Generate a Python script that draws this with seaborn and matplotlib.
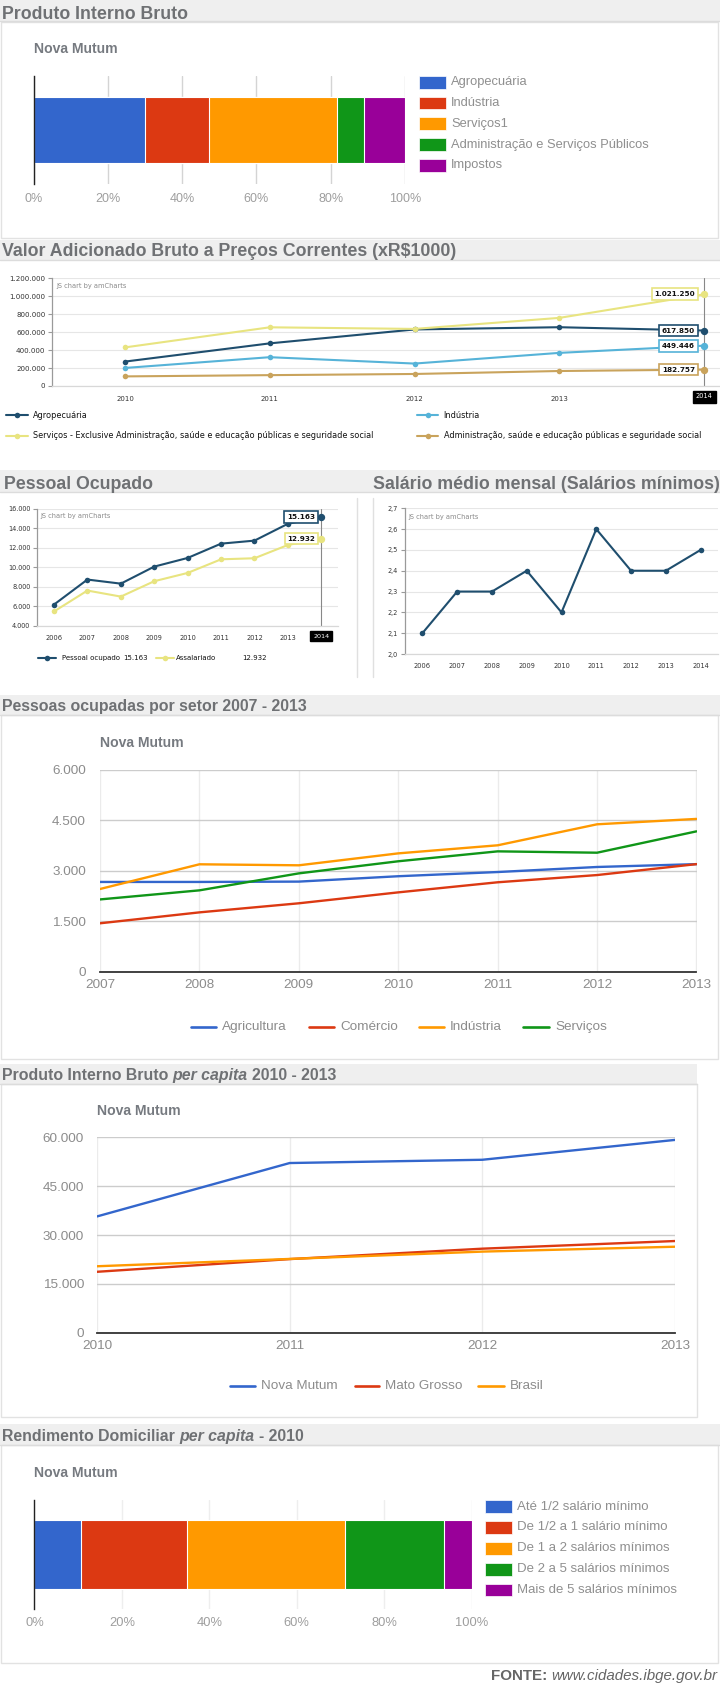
import matplotlib
matplotlib.use('Agg')
import matplotlib.pyplot as plt
from matplotlib.patches import Rectangle
from matplotlib.ticker import FuncFormatter
import numpy as np
import pandas as pd
import seaborn as sns

# ---------------- dados ----------------
pib_setores = ['Agropecuária', 'Indústria', 'Serviços1',
               'Administração e Serviços Públicos', 'Impostos']
pib_partes = [29.9, 17.3, 34.4, 7.4, 11.0]

vab_anos = [2010, 2011, 2012, 2013, 2014]
vab_nomes = ['Agropecuária', 'Indústria',
             'Serviços - Exclusive Administração, saúde e educação públicas e seguridade social',
             'Administração, saúde e educação públicas e seguridade social']
vab_agro = [272000, 475000, 630000, 655000, 617850]
vab_ind = [201000, 321000, 250000, 369000, 449446]
vab_serv = [430000, 654000, 636000, 759000, 1021250]
vab_adm = [107000, 121000, 134000, 167000, 182757]

pessoal_anos = [2006, 2007, 2008, 2009, 2010, 2011, 2012, 2013, 2014]
pessoal_nomes = ['Pessoal ocupado', 'Assalariado']
pessoal_ocupado = [6150, 8720, 8300, 10050, 10940, 12410, 12720, 14450, 15163]
assalariado = [5440, 7590, 6970, 8550, 9400, 10800, 10910, 12270, 12932]

salario_anos = [2006, 2007, 2008, 2009, 2010, 2011, 2012, 2013, 2014]
salario = [2.1, 2.3, 2.3, 2.4, 2.2, 2.6, 2.4, 2.4, 2.5]

setor_anos = [2007, 2008, 2009, 2010, 2011, 2012, 2013]
setor_nomes = ['Agricultura', 'Comércio', 'Indústria', 'Serviços']
agricultura = [2670, 2670, 2680, 2840, 2965, 3115, 3200]
comercio = [1440, 1765, 2035, 2360, 2660, 2875, 3200]
industria = [2460, 3195, 3165, 3520, 3760, 4385, 4545]
servicos = [2150, 2420, 2925, 3285, 3580, 3540, 4175]

pc_anos = [2010, 2011, 2012, 2013]
pc_nomes = ['Nova Mutum', 'Mato Grosso', 'Brasil']
pc_nova_mutum = [35700, 52100, 53100, 59200]
pc_mato_grosso = [18700, 22600, 25800, 28150]
pc_brasil = [20400, 22650, 24900, 26400]

rend_faixas = ['Até 1/2 salário mínimo', 'De 1/2 a 1 salário mínimo',
               'De 1 a 2 salários mínimos', 'De 2 a 5 salários mínimos',
               'Mais de 5 salários mínimos']
rend_partes = [10.7, 24.1, 36.2, 22.8, 6.2]

# ---------------- estilo ----------------
GOOGLE = ['#3366cc', '#dc3912', '#ff9900', '#109618', '#990099']
AM = ['#1f4e6e', '#56b3d8', '#e8e480', '#c9a35c']
TITLE_C = '#6f7174'
SUB_C = '#767a80'
AMFONT = 'DejaVu Sans'

sns.set_theme(style='white')
plt.rcParams['font.family'] = ['Liberation Sans', 'DejaVu Sans']

W, H = 720, 1684
fig = plt.figure(figsize=(W / 100, H / 100), dpi=100)
fig.patch.set_facecolor('white')
bg = fig.add_axes([0, 0, 1, 1], zorder=-10)
bg.set_xlim(0, W)
bg.set_ylim(H, 0)
bg.axis('off')
renderer = fig.canvas.get_renderer()


def rect(x0, y0, x1, y1):
    return [x0 / W, 1 - y1 / H, (x1 - x0) / W, (y1 - y0) / H]


def fmt_mil(v, pos=None):
    return f'{v:,.0f}'.replace(',', '.')


def fmt_dec(v, pos=None):
    return f'{v:.1f}'.replace('.', ',')


def band(y0, y1, x1=W):
    bg.add_patch(Rectangle((0, y0), x1, y1 - y0, fc='#efefef', ec='none'))
    bg.plot([0, x1], [y1, y1], color='#dcdcdc', lw=1)


def panel(y0, y1, x1=718):
    bg.add_patch(Rectangle((1, y0), x1 - 1, y1 - y0, fc='white', ec='#e2e2e2', lw=1))


def title(x, y, parts, size):
    gap = size / 72 * 100 * 0.28
    for s, st in parts:
        t = bg.text(x, y, s, fontsize=size, fontweight='bold', fontstyle=st,
                    color=TITLE_C, va='baseline', ha='left')
        x = t.get_window_extent(renderer).x1 + gap


def subtitle(x, y):
    bg.text(x, y, 'Nova Mutum', fontsize=10.1, fontweight='bold', color=SUB_C,
            va='center', ha='left')


# ---------------- fundos e títulos ----------------
band(0, 21)
panel(22, 238)
band(240, 260)
band(470, 491.5)
band(695, 715)
panel(715, 1059)
band(1064, 1084, 696.5)
panel(1084, 1417, 696.5)
band(1424, 1445)
panel(1445, 1663)
for xs in (357.3, 372.7):
    bg.plot([xs, xs], [498, 677], color='#e0e0e0', lw=1)

title(2, 19, [('Produto Interno Bruto', 'normal')], 12.8)
title(2, 256.5, [('Valor Adicionado Bruto a Preços Correntes (xR$1000)', 'normal')], 12.8)
title(3.5, 489, [('Pessoal Ocupado', 'normal')], 12.8)
title(373, 489, [('Salário médio mensal (Salários mínimos)', 'normal')], 12.8)
title(2, 710.5, [('Pessoas ocupadas por setor 2007 - 2013', 'normal')], 11.4)
title(2, 1080, [('Produto Interno Bruto', 'normal'), ('per capita', 'italic'),
                ('2010 - 2013', 'normal')], 11.4)
title(2, 1441, [('Rendimento Domiciliar', 'normal'), ('per capita', 'italic'),
                ('- 2010', 'normal')], 11.4)

subtitle(33.5, 49)
subtitle(100, 742.7)
subtitle(97, 1110.7)
subtitle(34.4, 1472.7)


# ---------------- barras empilhadas (Google) ----------------
def stacked(pos, partes, nomes, bar_w, grid_c, tick_size, tick_pad,
            leg_x, leg_y0, leg_dy, leg_size):
    ax = fig.add_axes(rect(*pos))
    cum = np.cumsum(partes)
    cores = GOOGLE[:len(partes)]
    for c, col in zip(cum[::-1], cores[::-1]):
        sns.barplot(x=[c], y=['Nova Mutum'], orient='h', color=col, saturation=1,
                    width=bar_w, edgecolor='white', linewidth=0.8, ax=ax)
    ax.set_facecolor('none')
    ax.set_xlim(0, 100)
    ax.set_ylim(0.5, -0.5)
    ax.set_yticks([])
    ax.set_xticks([0, 20, 40, 60, 80, 100])
    ax.set_xticklabels([f'{v}%' for v in [0, 20, 40, 60, 80, 100]])
    ax.grid(axis='x', color=grid_c, lw=1)
    ax.set_axisbelow(True)
    for s in ['top', 'right', 'bottom']:
        ax.spines[s].set_visible(False)
    ax.spines['left'].set_color('#222')
    ax.spines['left'].set_linewidth(1)
    ax.spines['left'].set_zorder(5)
    ax.tick_params(axis='x', length=0, pad=tick_pad, labelsize=tick_size, labelcolor='#9e9e9e')
    ax.set_xlabel('')
    ax.set_ylabel('')
    for i, (nome, col) in enumerate(zip(nomes, cores)):
        y = leg_y0 + i * leg_dy
        bg.add_patch(Rectangle((leg_x, y - 6.4), 26.5, 12.8, fc=col, ec='white', lw=0.5))
        bg.text(leg_x + 32, y, nome, fontsize=leg_size, color='#8f8f8f', va='center', ha='left')
    return ax


stacked((33.5, 76, 405, 184), pib_partes, pib_setores, 0.62, '#d4d4d4', 9, 6.5,
        419, 82.3, 20.75, 9.3)
stacked((34.4, 1500, 471.5, 1609), rend_partes, rend_faixas, 0.633, '#eeeeee', 9.3, 5.5,
        485, 1506.7, 20.8, 9.5)


# ---------------- linhas amCharts ----------------
def am_axes(pos, xlim):
    ax = fig.add_axes(rect(*pos))
    ax.set_facecolor('none')
    ax.set_xlim(*xlim)
    return ax


def am_style(ax, xlim, ylim, yticks, yfmt, ysize, xsize, xpad, xticks):
    ax.set_xlabel('')
    ax.set_ylabel('')
    ax.set_xlim(*xlim)
    ax.set_ylim(*ylim)
    ax.set_yticks(yticks)
    ax.yaxis.set_major_formatter(FuncFormatter(yfmt))
    ax.set_xticks(xticks)
    ax.set_xticklabels([str(a) for a in xticks])
    ax.grid(axis='y', color='#e6e6e6', lw=0.8)
    ax.grid(axis='x', visible=False)
    for s in ['top', 'right']:
        ax.spines[s].set_visible(False)
    ax.spines['left'].set_color('#9a9a9a')
    ax.spines['left'].set_linewidth(0.9)
    ax.spines['bottom'].set_color('#d8d8d8')
    ax.spines['bottom'].set_linewidth(0.9)
    ax.tick_params(axis='y', left=True, length=3, width=0.8, color='#9a9a9a', pad=2,
                   labelsize=ysize, labelcolor='#333333', labelfontfamily=AMFONT)
    ax.tick_params(axis='x', bottom=False, length=0, pad=xpad, labelsize=xsize,
                   labelcolor='#333333', labelfontfamily=AMFONT)


def am_lines(ax, anos, nomes, series, cores):
    df = pd.DataFrame({'ano': anos * len(nomes),
                       'serie': np.repeat(nomes, len(anos)),
                       'valor': np.concatenate(series)})
    sns.lineplot(data=df, x='ano', y='valor', hue='serie', hue_order=nomes,
                 palette=cores, marker='o', markersize=4, markeredgewidth=0,
                 linewidth=1.5, legend=False, ax=ax)


def js_credit(ax, x, y):
    ax.text(x, y, 'JS chart by amCharts', transform=ax.transAxes, fontsize=4.8,
            color='#8a8a8a', family=AMFONT, ha='left', va='center')


def balloon(ax, x, y, col, dx, size):
    ax.scatter([x], [y], s=28, color=col, zorder=6, clip_on=False, linewidths=0)
    ax.annotate(fmt_mil(y), (x, y), xytext=(dx, 0), textcoords='offset pixels',
                ha='right', va='center', fontsize=size, fontweight='bold',
                family=AMFONT, color='#111111', zorder=7, annotation_clip=False,
                bbox=dict(boxstyle='square,pad=0.4', fc='white', ec=col, lw=1.2))


def year_box(ax, x, size):
    ax.axvline(x, color='#888888', lw=0.8, zorder=1)
    ax.annotate(str(x), (x, 0), xycoords=('data', 'axes fraction'), xytext=(0, -10.5),
                textcoords='offset pixels', ha='center', va='center', fontsize=size,
                color='white', family=AMFONT, annotation_clip=False,
                bbox=dict(boxstyle='square,pad=0.45', fc='black', ec='black'))


def am_legend_item(x0, x1, y, col, text, size, tx=None):
    bg.plot([x0, x1], [y, y], color=col, lw=1.5)
    bg.plot([(x0 + x1) / 2], [y], 'o', ms=4, color=col, mew=0)
    bg.text(x1 + 5.5 if tx is None else tx, y, text, fontsize=size, family=AMFONT,
            color='#111111', va='center', ha='left')


# VAB
vab_series = [vab_agro, vab_ind, vab_serv, vab_adm]
xl = (2009.498, 2014.11)
ax = am_axes((52.3, 278.3, 720, 386), xl)
am_lines(ax, vab_anos, vab_nomes, vab_series, AM)
am_style(ax, xl, (0, 1200000), np.arange(0, 1200001, 200000), fmt_mil, 5.1, 5, 7,
         vab_anos[:-1])
js_credit(ax, 0.006, 0.928)
year_box(ax, vab_anos[-1], 4.8)
for serie, col in zip(vab_series, AM):
    balloon(ax, vab_anos[-1], serie[-1], col, -9, 5.2)
vab_leg = [(5.5, 27.5, 415), (417, 438, 415), (5.5, 27.5, 435.7), (417, 438, 435.7)]
for (x0, x1, y), nome, col in zip(vab_leg, vab_nomes, AM):
    am_legend_item(x0, x1, y, col, nome, 5.9)

# Pessoal ocupado
pes_series = [pessoal_ocupado, assalariado]
pes_cores = [AM[0], AM[2]]
xl = (2005.5, 2014.5)
ax = am_axes((37.3, 508.7, 338, 625.5), xl)
am_lines(ax, pessoal_anos, pessoal_nomes, pes_series, pes_cores)
am_style(ax, xl, (4000, 16000), np.arange(4000, 16001, 2000), fmt_mil, 4.7, 4.8, 6.5,
         pessoal_anos[:-1])
js_credit(ax, 0.009, 0.937)
year_box(ax, pessoal_anos[-1], 4.6)
for serie, col in zip(pes_series, pes_cores):
    balloon(ax, pessoal_anos[-1], serie[-1], col, -6, 5.2)
am_legend_item(38, 56, 658.3, pes_cores[0], pessoal_nomes[0], 5)
bg.text(123.5, 658.3, fmt_mil(pessoal_ocupado[-1]), fontsize=5, family=AMFONT,
        color='#111111', va='center')
am_legend_item(156, 173.5, 658.3, pes_cores[1], pessoal_nomes[1], 5, tx=176)
bg.text(242, 658.3, fmt_mil(assalariado[-1]), fontsize=5, family=AMFONT,
        color='#111111', va='center')

# Salário médio
ax = am_axes((405, 508.3, 718, 654), xl)
sns.lineplot(x=salario_anos, y=salario, color=AM[0], marker='o', markersize=4,
             markeredgewidth=0, linewidth=1.5, ax=ax)
am_style(ax, xl, (2.0, 2.7), np.round(np.arange(2.0, 2.71, 0.1), 1), fmt_dec, 4.7, 4.8,
         6.5, salario_anos)
js_credit(ax, 0.0105, 0.942)


# ---------------- linhas Google ----------------
def google_lines(pos, anos, nomes, series, ymax, ystep, ypad, leg):
    ax = fig.add_axes(rect(*pos))
    ax.set_facecolor('none')
    df = pd.DataFrame({'ano': anos * len(nomes),
                       'serie': np.repeat(nomes, len(anos)),
                       'valor': np.concatenate(series)})
    cores = GOOGLE[:len(nomes)]
    sns.lineplot(data=df, x='ano', y='valor', hue='serie', hue_order=nomes,
                 palette=cores, linewidth=1.7, legend=False, ax=ax)
    ax.set_xlim(anos[0], anos[-1])
    ax.set_ylim(0, ymax)
    ax.set_xticks(anos)
    ax.set_yticks(np.arange(0, ymax + 1, ystep))
    ax.yaxis.set_major_formatter(FuncFormatter(fmt_mil))
    ax.grid(axis='y', color='#cccccc', lw=1)
    ax.grid(axis='x', color='#ebebeb', lw=1)
    ax.set_axisbelow(True)
    for s in ['top', 'right', 'left']:
        ax.spines[s].set_visible(False)
    ax.spines['bottom'].set_color('#333333')
    ax.spines['bottom'].set_linewidth(1.3)
    ax.tick_params(axis='y', length=0, pad=ypad, labelsize=9.7, labelcolor='#8c8c8c')
    ax.tick_params(axis='x', length=0, pad=5, labelsize=9.7, labelcolor='#8c8c8c')
    ax.set_xlabel('')
    ax.set_ylabel('')
    for (x0, x1, y), nome, col in zip(leg, nomes, cores):
        bg.plot([x0, x1], [y, y], color=col, lw=1.9)
        bg.text(x1 + 6, y, nome, fontsize=9.7, color='#8c8c8c', va='center', ha='left')
    return ax


google_lines((100, 770, 696.5, 971.7), setor_anos, setor_nomes,
             [agricultura, comercio, industria, servicos], 6000, 1500, 10,
             [(191, 216, 1026.7), (308.5, 334, 1026.7), (418.7, 444, 1026.7),
              (523, 549, 1026.7)])
google_lines((97, 1137.3, 675, 1332.7), pc_anos, pc_nomes,
             [pc_nova_mutum, pc_mato_grosso, pc_brasil], 60000, 15000, 9.4,
             [(229.6, 254.8, 1386), (354.5, 379, 1386), (478, 503.7, 1386)])

# ---------------- fonte ----------------
t = bg.text(717.5, 1676, 'www.cidades.ibge.gov.br', fontsize=10.9, fontstyle='italic',
            color='#666666', ha='right', va='center')
x_url = t.get_window_extent(renderer).x0
bg.text(x_url - 4, 1676, 'FONTE:', fontsize=10.9, fontweight='bold', color='#666666',
        ha='right', va='center')

fig.savefig('out.png', dpi=100, facecolor='white')
